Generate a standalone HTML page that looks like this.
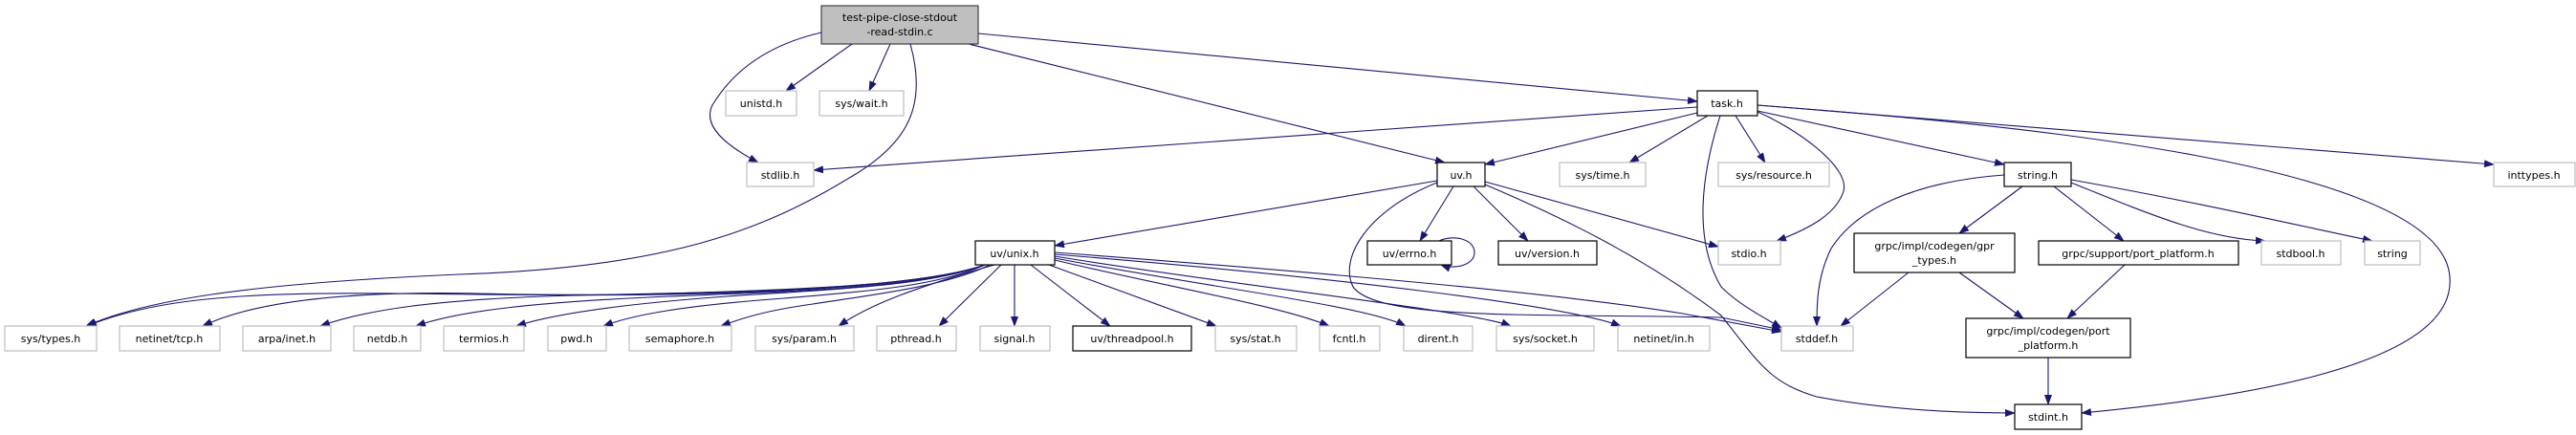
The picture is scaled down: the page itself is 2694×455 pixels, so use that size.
<!DOCTYPE html>
<html><head><meta charset="utf-8"><style>
html,body{margin:0;padding:0;background:#fff;}
svg{display:block;}
text{font-family:"DejaVu Sans","Liberation Sans",sans-serif;font-size:11px;fill:#000;text-anchor:middle;}
.g{fill:#fff;stroke:#bfbfbf;stroke-width:1.2;}
.b{fill:#fff;stroke:#000;stroke-width:1.2;}
.e{fill:none;stroke:#191970;stroke-width:1.1;marker-end:url(#a);}
</style></head><body>
<svg width="2694" height="455" viewBox="0 0 2694 455" xmlns="http://www.w3.org/2000/svg">
<defs><marker id="a" markerUnits="userSpaceOnUse" markerWidth="11" markerHeight="8" refX="10" refY="4" orient="auto"><path d="M0,0 L11,4 L0,8 z" fill="#191970"/></marker></defs>

<!-- edges -->
<path class="e" d="M891,46 L822,95"/>
<path class="e" d="M931,46 L909,95"/>
<path class="e" d="M859,34 C790,50 760,85 745,110 C735,130 755,150 793,170"/>
<path class="e" d="M952,46 C970,110 950,150 890,185 C800,240 700,280 480,287 C250,297 150,315 90,341"/>
<path class="e" d="M1013,46 L1511,170"/>
<path class="e" d="M1023,35 L1775,106"/>
<path class="e" d="M1775,112 L851,178"/>
<path class="e" d="M1775,118 L1553,172"/>
<path class="e" d="M1786,121 L1704,170"/>
<path class="e" d="M1815,121 L1846,170"/>
<path class="e" d="M1836,116 C1880,135 1935,175 1928,200 C1920,225 1890,240 1858,252"/>
<path class="e" d="M1799,121 C1780,180 1770,250 1800,300 C1820,320 1845,332 1863,343"/>
<path class="e" d="M1838,116 L2096,172"/>
<path class="e" d="M1838,110 C2100,130 2555,170 2562,290 C2570,390 2300,420 2177,432"/>
<path class="e" d="M1838,110 L2608,172"/>
<path class="e" d="M1503,189 L1103,257"/>
<path class="e" d="M1520,195 L1485,252"/>
<path class="e" d="M1505,252 C1520,245 1542,250 1542,264 C1542,278 1520,282 1507,277"/>
<path class="e" d="M1541,195 L1598,252"/>
<path class="e" d="M1553,190 L1797,258"/>
<path class="e" d="M1503,191 C1430,220 1400,270 1415,300 C1440,335 1600,328 1800,332 L1863,345"/>
<path class="e" d="M1553,193 C1640,230 1720,270 1800,330 C1840,380 1850,400 1900,415 C1980,430 2060,432 2107,432"/>
<!-- uv/unix.h edges -->
<path class="e" d="M1030,277 C950,305 700,310 500,308 C300,305 180,305 91,341"/>
<path class="e" d="M1030,277 C950,305 700,312 500,307 C350,304 260,318 212,341"/>
<path class="e" d="M1030,277 C960,302 780,305 600,309 C450,313 380,325 335,341"/>
<path class="e" d="M1030,277 C960,302 820,305 700,310 C560,316 480,325 435,341"/>
<path class="e" d="M1030,277 C970,300 860,303 760,310 C650,318 580,328 540,341"/>
<path class="e" d="M1030,277 C980,300 900,305 820,312 C710,320 660,330 631,341"/>
<path class="e" d="M1035,277 C990,300 900,310 850,318 C800,325 775,333 754,341"/>
<path class="e" d="M1040,277 C960,300 910,318 877,341"/>
<path class="e" d="M1047,277 L982,341"/>
<path class="e" d="M1061,277 L1061,341"/>
<path class="e" d="M1078,277 L1161,341"/>
<path class="e" d="M1097,277 L1272,341"/>
<path class="e" d="M1103,272 C1220,300 1340,320 1390,341"/>
<path class="e" d="M1103,270 C1260,300 1430,320 1470,341"/>
<path class="e" d="M1103,268 C1300,300 1540,325 1580,341"/>
<path class="e" d="M1103,266 C1400,290 1640,320 1695,341"/>
<path class="e" d="M1103,264 C1450,290 1650,310 1760,328 L1863,347"/>
<!-- string.h edges -->
<path class="e" d="M2096,183 C2000,190 1940,220 1915,260 C1900,290 1900,320 1900,341"/>
<path class="e" d="M2115,195 L2049,244"/>
<path class="e" d="M2148,195 L2221,252"/>
<path class="e" d="M2166,191 C2250,225 2310,250 2369,252"/>
<path class="e" d="M2166,188 C2290,210 2400,235 2481,252"/>
<path class="e" d="M1996,285 L1925,341"/>
<path class="e" d="M2049,285 L2116,333"/>
<path class="e" d="M2222,277 L2162,333"/>
<path class="e" d="M2142,374 L2142,423"/>

<!-- nodes -->
<rect x="859" y="6" width="164" height="40" fill="#bfbfbf" stroke="#404040" stroke-width="1.2"/>
<text x="941" y="22">test-pipe-close-stdout</text><text x="941" y="37">-read-stdin.c</text>

<rect class="g" x="759" y="95" width="74" height="26"/><text x="796" y="112">unistd.h</text>
<rect class="g" x="857" y="95" width="88" height="26"/><text x="901" y="112">sys/wait.h</text>
<rect class="b" x="1775" y="95" width="63" height="26"/><text x="1806" y="112">task.h</text>

<rect class="g" x="781" y="170" width="70" height="25"/><text x="816" y="187">stdlib.h</text>
<rect class="b" x="1503" y="170" width="50" height="25"/><text x="1528" y="187">uv.h</text>
<rect class="g" x="1631" y="170" width="90" height="25"/><text x="1676" y="187">sys/time.h</text>
<rect class="g" x="1797" y="170" width="116" height="25"/><text x="1855" y="187">sys/resource.h</text>
<rect class="b" x="2096" y="170" width="70" height="25"/><text x="2131" y="187">string.h</text>
<rect class="g" x="2608" y="170" width="85" height="25"/><text x="2650" y="187">inttypes.h</text>

<rect class="b" x="1020" y="252" width="83" height="25"/><text x="1061" y="269">uv/unix.h</text>
<rect class="b" x="1430" y="252" width="88" height="25"/><text x="1474" y="269">uv/errno.h</text>
<rect class="b" x="1567" y="252" width="103" height="25"/><text x="1618" y="269">uv/version.h</text>
<rect class="g" x="1797" y="252" width="65" height="25"/><text x="1829" y="269">stdio.h</text>
<rect class="b" x="1939" y="244" width="168" height="41"/><text x="2023" y="261">grpc/impl/codegen/gpr</text><text x="2023" y="276">_types.h</text>
<rect class="b" x="2132" y="252" width="209" height="25"/><text x="2236" y="269">grpc/support/port_platform.h</text>
<rect class="g" x="2365" y="252" width="83" height="25"/><text x="2406" y="269">stdbool.h</text>
<rect class="g" x="2473" y="252" width="58" height="25"/><text x="2502" y="269">string</text>

<rect class="g" x="5" y="341" width="96" height="26"/><text x="53" y="358">sys/types.h</text>
<rect class="g" x="125" y="341" width="105" height="26"/><text x="177" y="358">netinet/tcp.h</text>
<rect class="g" x="254" y="341" width="92" height="26"/><text x="300" y="358">arpa/inet.h</text>
<rect class="g" x="370" y="341" width="70" height="26"/><text x="405" y="358">netdb.h</text>
<rect class="g" x="464" y="341" width="84" height="26"/><text x="506" y="358">termios.h</text>
<rect class="g" x="573" y="341" width="61" height="26"/><text x="603" y="358">pwd.h</text>
<rect class="g" x="658" y="341" width="107" height="26"/><text x="711" y="358">semaphore.h</text>
<rect class="g" x="790" y="341" width="103" height="26"/><text x="841" y="358">sys/param.h</text>
<rect class="g" x="917" y="341" width="83" height="26"/><text x="958" y="358">pthread.h</text>
<rect class="g" x="1025" y="341" width="73" height="26"/><text x="1061" y="358">signal.h</text>
<rect class="b" x="1122" y="341" width="124" height="26"/><text x="1184" y="358">uv/threadpool.h</text>
<rect class="g" x="1271" y="341" width="85" height="26"/><text x="1313" y="358">sys/stat.h</text>
<rect class="g" x="1380" y="341" width="63" height="26"/><text x="1411" y="358">fcntl.h</text>
<rect class="g" x="1468" y="341" width="72" height="26"/><text x="1504" y="358">dirent.h</text>
<rect class="g" x="1565" y="341" width="102" height="26"/><text x="1616" y="358">sys/socket.h</text>
<rect class="g" x="1692" y="341" width="96" height="26"/><text x="1740" y="358">netinet/in.h</text>
<rect class="g" x="1863" y="341" width="75" height="26"/><text x="1900" y="358">stddef.h</text>
<rect class="b" x="2056" y="333" width="172" height="41"/><text x="2142" y="350">grpc/impl/codegen/port</text><text x="2142" y="365">_platform.h</text>

<rect class="b" x="2107" y="423" width="70" height="26"/><text x="2142" y="440">stdint.h</text>
</svg>
</body></html>
